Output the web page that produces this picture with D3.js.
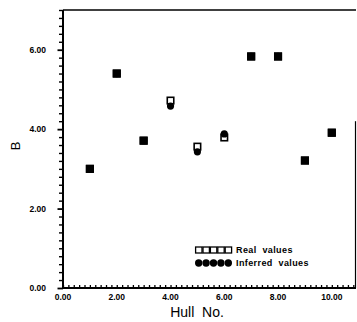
<!DOCTYPE html>
<html><head><meta charset="utf-8">
<script src="https://cdn.jsdelivr.net/npm/d3@7"></script>
<style>
body{margin:0;background:#fff;}
svg{display:block;}
text{font-family:"Liberation Sans",Arial,sans-serif;fill:#000;white-space:pre;}
</style></head>
<body>
<script>
const hull = [1, 2, 3, 4, 5, 6, 7, 8, 9, 10];
const realValues = [3.00, 5.40, 3.71, 4.72, 3.56, 3.79, 5.83, 5.83, 3.21, 3.91];
const inferredValues = [3.00, 5.40, 3.71, 4.58, 3.43, 3.88, 5.83, 5.83, 3.21, 3.91];
const xTicks = [0, 2, 4, 6, 8, 10];
const yTicks = [0, 2, 4, 6];
const legendLabels = ["Real  values", "Inferred  values"];

const W = 357, H = 322;
const svg = d3.select("body").append("svg").attr("width", W).attr("height", H);

const x = d3.scaleLinear().domain([0, 10.9]).range([63, 356]);
const y = d3.scaleLinear().domain([0, 7]).range([288, 10]);

const yMinor = d3.range(0, 7.01, 0.2);
const xMinor = d3.range(0, 10.91, 0.2);

// Y axis
const yAxis = d3.axisLeft(y).tickValues(yMinor).tickSize(4).tickFormat("");
const gy = svg.append("g").attr("transform", `translate(${x(0)},0)`).call(yAxis);
gy.select(".domain").attr("stroke-width", 2).attr("d", `M0,${y(0)}V${y(7)}`);
gy.selectAll(".tick line").attr("stroke-width", 1.4);
gy.selectAll(".tick").filter(d => Math.abs(d - Math.round(d/2)*2) < 1e-6).select("line").attr("x2", -5.5).attr("stroke-width", 1.8);

svg.append("g").selectAll("text").data(yTicks).join("text")
  .attr("x", 46).attr("y", d => y(d) + 3)
  .attr("text-anchor", "end").attr("font-size", 8.5).attr("font-weight", "bold")
  .text(d => d.toFixed(2));

// X axis
const xAxis = d3.axisTop(x).tickValues(xMinor).tickSize(3).tickFormat("");
const gx = svg.append("g").attr("transform", `translate(0,${y(0)})`).call(xAxis);
gx.select(".domain").attr("stroke-width", 2).attr("d", `M${x(0)},0H${x(10.9)}`);
gx.selectAll(".tick line").attr("stroke-width", 1.3);

svg.append("g").selectAll("text").data(xTicks).join("text")
  .attr("x", d => x(d)).attr("y", y(0) + 12)
  .attr("text-anchor", "middle").attr("font-size", 8.5).attr("font-weight", "bold")
  .text(d => d.toFixed(2));

// frame: top and partial right
svg.append("line").attr("x1", x(0)).attr("x2", x(10.9)).attr("y1", y(7)).attr("y2", y(7))
  .attr("stroke", "#000").attr("stroke-width", 1.6);
svg.append("line").attr("x1", x(10.9) - 0.5).attr("x2", x(10.9) - 0.5).attr("y1", y(4.2)).attr("y2", y(0))
  .attr("stroke", "#000").attr("stroke-width", 1.2);

// axis titles
svg.append("text").attr("transform", `translate(20,146) rotate(-90)`)
  .attr("text-anchor", "middle").attr("font-size", 13).text("B");
svg.append("text").attr("x", 197).attr("y", 317)
  .attr("text-anchor", "middle").attr("font-size", 14).text("Hull  No.");

// markers
const s = 6.5;
svg.append("g").selectAll("rect").data(hull).join("rect")
  .attr("x", (d) => x(d) - s/2).attr("y", (d, i) => y(realValues[i]) - s/2)
  .attr("width", s).attr("height", s)
  .attr("fill", "#fff").attr("stroke", "#000").attr("stroke-width", 1.6);
svg.append("g").selectAll("circle").data(hull).join("circle")
  .attr("cx", d => x(d)).attr("cy", (d, i) => y(inferredValues[i]))
  .attr("r", 3.6).attr("fill", "#000");
svg.append("g").selectAll("rect").data(hull.filter((d, i) => realValues[i] === inferredValues[i])).join("rect")
  .attr("x", d => x(d) - s/2).attr("y", d => y(realValues[hull.indexOf(d)]) - s/2)
  .attr("width", s).attr("height", s).attr("fill", "#000").attr("stroke", "#000").attr("stroke-width", 1.6);

// legend
const lg = svg.append("g");
const lx0 = 195, ly = [250, 263];
lg.selectAll("rect").data(d3.range(5)).join("rect")
  .attr("x", i => lx0 + i * 7.4 + 0.6).attr("y", ly[0] - 3)
  .attr("width", 6.4).attr("height", 6)
  .attr("fill", "#fff").attr("stroke", "#000").attr("stroke-width", 1.3);
lg.selectAll("circle").data(d3.range(5)).join("circle")
  .attr("cx", i => lx0 + i * 7.4 + 3.7).attr("cy", ly[1])
  .attr("r", 3.7).attr("fill", "#000");
lg.selectAll("text").data(legendLabels).join("text")
  .attr("x", 236).attr("y", (d, i) => ly[i] + 3)
  .attr("font-size", 9).attr("font-weight", "bold").attr("letter-spacing", 0.4).text(d => d);
</script>
</body></html>
